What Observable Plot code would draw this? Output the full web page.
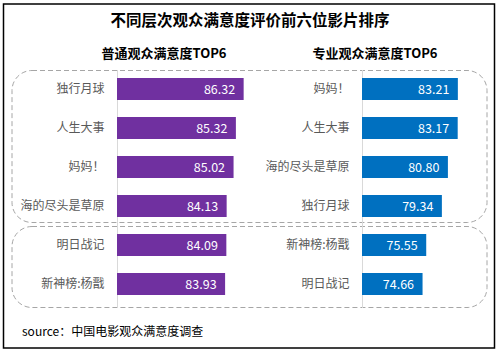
<!DOCTYPE html>
<html>
<head>
<meta charset="utf-8">
<script src="https://cdn.jsdelivr.net/npm/d3@7"></script>
<script src="https://cdn.jsdelivr.net/npm/@observablehq/plot@0.6"></script>
<style>
  html, body { margin: 0; padding: 0; background: #fff; }
  #wrap { position: relative; width: 499px; height: 354px; overflow: hidden; font-family: "Noto Sans CJK SC", "Noto Sans", sans-serif; }
  #wrap > * { position: absolute; left: 0; top: 0; }
  .t { position: absolute; white-space: nowrap; transform: translate(-50%, -50%); }
</style>
</head>
<body>
<div id="wrap"></div>
<script>
// ---- data ----
const title = "不同层次观众满意度评价前六位影片排序";
const leftTitle = "普通观众满意度TOP6";
const rightTitle = "专业观众满意度TOP6";
const source = "source：中国电影观众满意度调查";

const leftMovies = ["独行月球", "人生大事", "妈妈！", "海的尽头是草原", "明日战记", "新神榜:杨戬"];
const leftScores = [86.32, 85.32, 85.02, 84.13, 84.09, 83.93];

const rightMovies = ["妈妈！", "人生大事", "海的尽头是草原", "独行月球", "新神榜:杨戬", "明日战记"];
const rightScores = [83.21, 83.17, 80.80, 79.34, 75.55, 74.66];

const purple = "#7030A0";
const blue = "#0070C0";

const W = 499, H = 354;
const wrap = document.getElementById("wrap");

// decoration: frame and dashed groups
const deco = d3.create("svg").attr("width", W).attr("height", H);
deco.append("rect").attr("x", 3.5).attr("y", 4).attr("width", 491).attr("height", 344)
  .attr("fill", "#fff").attr("stroke", "#000").attr("stroke-width", 1.5);
deco.append("rect").attr("x", 12).attr("y", 70.5).attr("width", 475).attr("height", 152).attr("rx", 20)
  .attr("fill", "none").attr("stroke", "#a6a6a6").attr("stroke-dasharray", "5,3");
deco.append("rect").attr("x", 12).attr("y", 226.5).attr("width", 475).attr("height", 81).attr("rx", 20)
  .attr("fill", "none").attr("stroke", "#a6a6a6").attr("stroke-dasharray", "5,3");
wrap.appendChild(deco.node());

function panel(names, scores, color, domain, range) {
  const rows = names.map((n, i) => ({name: n, value: scores[i], label: scores[i].toFixed(2)}));
  return Plot.plot({
    width: W, height: H,
    marginTop: 70, marginBottom: 46, marginLeft: 0, marginRight: 0,
    style: {background: "transparent", fontFamily: "'Noto Sans CJK SC', sans-serif", fontSize: "12px", overflow: "visible"},
    x: {domain, range, axis: null},
    y: {type: "band", domain: names, range: [69.2, 303.2], paddingInner: 0.436, paddingOuter: 0.218, axis: null},
    marks: [
      Plot.ruleX([domain[0]], {stroke: "#d9d9d9", strokeWidth: 1}),
      Plot.barX(rows, {x1: domain[0], x2: "value", y: "name", fill: color}),
      Plot.text(rows, {x: domain[0], y: "name", text: "name", textAnchor: "end", dx: -13, fill: "#595959", fontSize: 12}),
      Plot.text(rows, {x: "value", y: "name", text: "label", textAnchor: "end", dx: -9, fill: "#fff", fontSize: 12.5})
    ]
  });
}

wrap.appendChild(panel(leftMovies, leftScores, purple, [70, 90], [117, 117 + 20 * 7.76]));
wrap.appendChild(panel(rightMovies, rightScores, blue, [60, 90], [362, 362 + 30 * 4.13]));

function addText(txt, x, y, css) {
  const d = document.createElement("div");
  d.className = "t";
  d.textContent = txt;
  d.style.left = x + "px";
  d.style.top = y + "px";
  Object.assign(d.style, css);
  wrap.appendChild(d);
  return d;
}
addText(title, 250, 19, {fontSize: "15.5px", fontWeight: "bold", color: "#000"});
addText(leftTitle, 164, 52, {fontSize: "13px", fontWeight: "bold", color: "#000"});
addText(rightTitle, 375, 52, {fontSize: "13px", fontWeight: "bold", color: "#000"});
const s = addText(source, 22, 330, {fontSize: "12px", color: "#000"});
s.style.transform = "translate(0, -50%)";
</script>
</body>
</html>
